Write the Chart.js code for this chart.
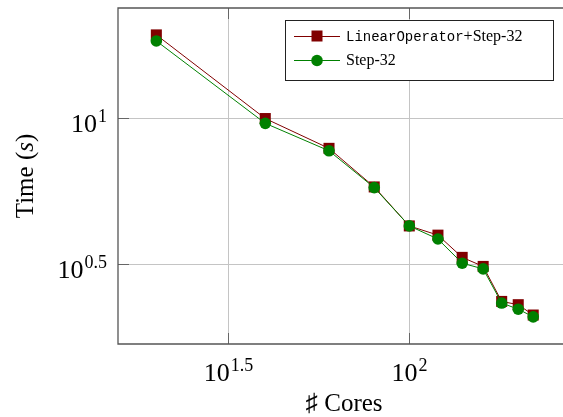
<!DOCTYPE html>
<html>
<head>
<meta charset="utf-8">
<script src="https://cdn.jsdelivr.net/npm/chart.js@4"></script>
<style>
  html, body { margin: 0; padding: 0; background: #fff; }
  #wrap { width: 563px; height: 417px; }
</style>
</head>
<body>
<div id="wrap"><canvas id="chart" width="563" height="417"></canvas></div>
<script>
// data (log-log)
const cores = [20, 40, 60, 80, 100, 120, 140, 160, 180, 200, 220];
const timeLinOp = [19.3, 9.98, 7.89, 5.82, 4.28, 3.98, 3.34, 3.11, 2.36, 2.30, 2.12];
const timeStep = [18.4, 9.61, 7.74, 5.79, 4.28, 3.86, 3.19, 3.05, 2.33, 2.22, 2.09];
const xTickExps = [1.5, 2];
const yTickExps = [0.5, 1];
const legendMono = ['LinearOperator', ''];
const legendSerif = ['+Step-32', 'Step-32'];
const xTitle = '\u266F Cores';

const RED = '#800000';
const GREEN = '#008000';
const SERIF = '"Liberation Serif", "DejaVu Serif", serif';
const MONO = '"Liberation Mono", "DejaVu Sans Mono", monospace';

const toPoints = (ys) => cores.map((c, i) => ({ x: c, y: ys[i] }));

function drawPow(ctx, exp, x, y, align) {
    const base = '10', sup = String(exp);
    ctx.font = '26px ' + SERIF;
    const wb = ctx.measureText(base).width;
    ctx.font = '18px ' + SERIF;
    const ws = ctx.measureText(sup).width;
    const total = wb + 1 + ws;
    const x0 = align === 'right' ? x - total : x - total / 2;
    ctx.textAlign = 'left';
    ctx.textBaseline = 'alphabetic';
    ctx.fillStyle = '#000';
    ctx.font = '26px ' + SERIF;
    ctx.fillText(base, x0, y);
    ctx.font = '18px ' + SERIF;
    ctx.fillText(sup, x0 + wb + 1, y - 10);
}

// frame, ticks, labels and legend drawn like pgfplots does
const decorPlugin = {
    id: 'decor',
    afterDraw(chart) {
        const ctx = chart.ctx;
        const a = chart.chartArea;
        const xs = chart.scales.x, ys = chart.scales.y;
        ctx.save();

        // tick marks (inside)
        ctx.strokeStyle = '#666';
        ctx.lineWidth = 1;
        xTickExps.forEach(e => {
            const px = Math.round(xs.getPixelForValue(Math.pow(10, e))) + 0.5;
            ctx.beginPath();
            ctx.moveTo(px, a.bottom); ctx.lineTo(px, a.bottom - 11);
            ctx.moveTo(px, a.top); ctx.lineTo(px, a.top + 11);
            ctx.stroke();
            drawPow(ctx, e, px, a.bottom + 37, 'center');
        });
        yTickExps.forEach(e => {
            const py = Math.round(ys.getPixelForValue(Math.pow(10, e))) + 0.5;
            ctx.beginPath();
            ctx.moveTo(a.left, py); ctx.lineTo(a.left + 11, py);
            ctx.stroke();
            drawPow(ctx, e, a.left - 11, py + 13, 'right');
        });

        // frame (right edge falls outside the picture)
        ctx.strokeStyle = '#555';
        ctx.lineWidth = 1.3;
        ctx.beginPath();
        ctx.moveTo(a.right, a.top);
        ctx.lineTo(a.left, a.top);
        ctx.lineTo(a.left, a.bottom);
        ctx.lineTo(a.right, a.bottom);
        ctx.stroke();

        // axis titles
        ctx.fillStyle = '#000';
        ctx.font = '25px ' + SERIF;
        ctx.textAlign = 'center';
        ctx.textBaseline = 'alphabetic';
        ctx.fillText(xTitle, 344, 411);

        ctx.save();
        ctx.translate(33, (a.top + a.bottom) / 2);
        ctx.rotate(-Math.PI / 2);
        const p1 = 'Time (', p2 = 's', p3 = ')';
        ctx.font = '25px ' + SERIF;
        const w1 = ctx.measureText(p1).width, w3 = ctx.measureText(p3).width;
        ctx.font = 'italic 25px ' + SERIF;
        const w2 = ctx.measureText(p2).width;
        let tx = -(w1 + w2 + w3) / 2;
        ctx.textAlign = 'left';
        ctx.font = '25px ' + SERIF;
        ctx.fillText(p1, tx, 0); tx += w1;
        ctx.font = 'italic 25px ' + SERIF;
        ctx.fillText(p2, tx, 0); tx += w2;
        ctx.font = '25px ' + SERIF;
        ctx.fillText(p3, tx, 0);
        ctx.restore();

        // legend
        const lx = 285, ly = 20, lw = 268, lh = 60;
        ctx.fillStyle = '#fff';
        ctx.fillRect(lx, ly, lw, lh);
        ctx.strokeStyle = '#222';
        ctx.lineWidth = 1;
        ctx.strokeRect(lx + 0.5, ly + 0.5, lw, lh);
        const colors = [RED, GREEN];
        [36, 60].forEach((ry, i) => {
            ctx.strokeStyle = colors[i];
            ctx.fillStyle = colors[i];
            ctx.lineWidth = 1;
            ctx.beginPath();
            ctx.moveTo(294, ry + 0.5); ctx.lineTo(340, ry + 0.5);
            ctx.stroke();
            if (i === 0) {
                ctx.fillRect(317 - 5.5, ry - 5.5, 11, 11);
            } else {
                ctx.beginPath();
                ctx.arc(317, ry + 0.5, 5.8, 0, Math.PI * 2);
                ctx.fill();
            }
            ctx.fillStyle = '#000';
            ctx.textAlign = 'left';
            ctx.textBaseline = 'middle';
            let tx2 = 346;
            if (legendMono[i]) {
                ctx.font = '14px ' + MONO;
                ctx.fillText(legendMono[i], tx2, ry + 1);
                tx2 += ctx.measureText(legendMono[i]).width;
            }
            ctx.font = '16px ' + SERIF;
            ctx.fillText(legendSerif[i], tx2, ry + 1);
        });

        ctx.restore();
    }
};

const ctx = document.getElementById('chart').getContext('2d');
new Chart(ctx, {
    type: 'scatter',
    data: {
        datasets: [
            {
                label: legendMono[0] + legendSerif[0],
                data: toPoints(timeLinOp),
                borderColor: RED,
                backgroundColor: RED,
                borderWidth: 1,
                pointStyle: 'rect',
                pointRadius: 7.8,
                pointBorderWidth: 0,
                showLine: true,
                order: 1,
            },
            {
                label: legendSerif[1],
                data: toPoints(timeStep),
                borderColor: GREEN,
                backgroundColor: GREEN,
                borderWidth: 1,
                pointStyle: 'circle',
                pointRadius: 5.8,
                pointBorderWidth: 0,
                showLine: true,
                order: 0,
            },
        ]
    },
    options: {
        responsive: false,
        animation: false,
        devicePixelRatio: 1,
        layout: { autoPadding: false, padding: { top: 8, right: 0, left: 0, bottom: 0 } },
        plugins: {
            legend: { display: false },
            tooltip: { enabled: false },
        },
        scales: {
            x: {
                type: 'logarithmic',
                min: 15.67,
                max: 265.9,
                afterBuildTicks: (s) => { s.ticks = xTickExps.map(e => ({ value: Math.pow(10, e) })); },
                afterFit: (s) => { s.height = 73; },
                ticks: { display: false },
                grid: { color: '#c4c4c4', lineWidth: 1, drawTicks: false },
                border: { display: false },
            },
            y: {
                type: 'logarithmic',
                min: 1.687,
                max: 23.86,
                afterBuildTicks: (s) => { s.ticks = yTickExps.map(e => ({ value: Math.pow(10, e) })); },
                afterFit: (s) => { s.width = 118; },
                ticks: { display: false },
                grid: { color: '#c4c4c4', lineWidth: 1, drawTicks: false },
                border: { display: false },
            }
        }
    },
    plugins: [decorPlugin]
});
</script>
</body>
</html>
